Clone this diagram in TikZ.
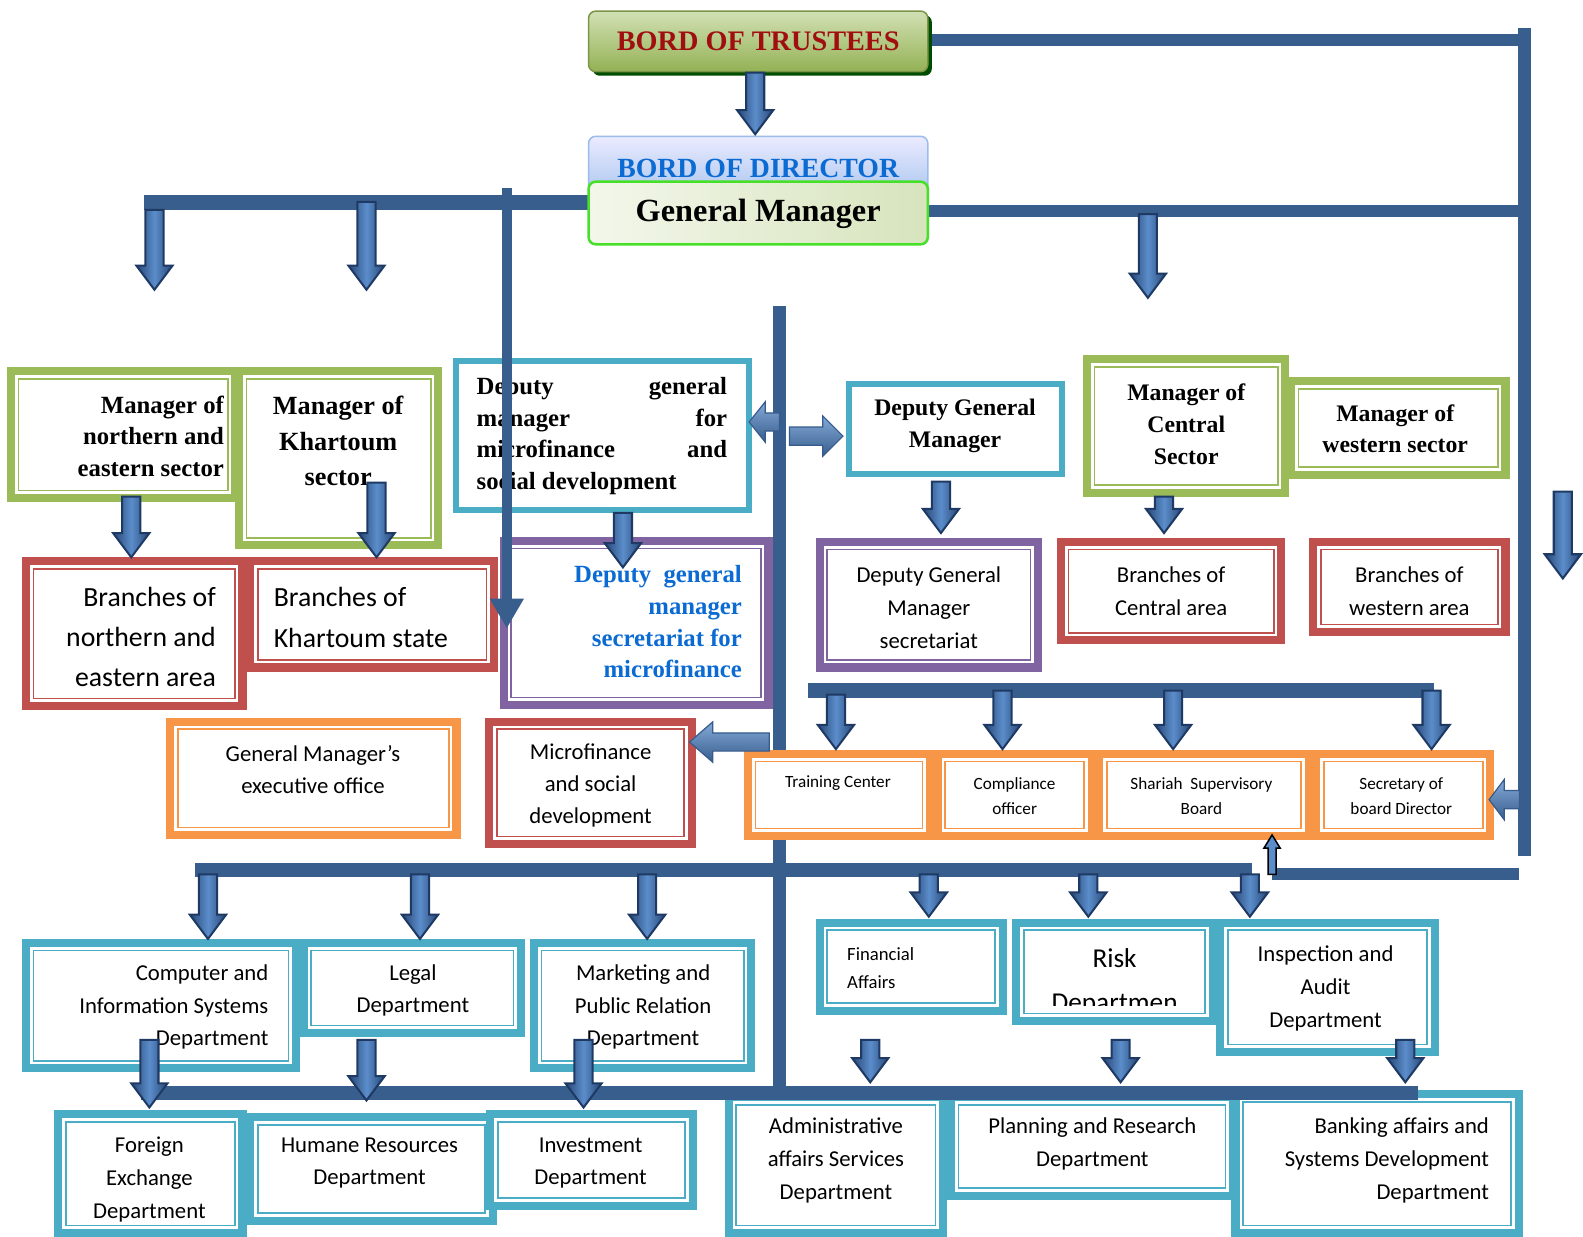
\documentclass[tikz,border=0pt]{standalone}
\usepackage{fontspec}
\setmainfont{Carlito}
\newfontfamily\sbf{Liberation Serif}
\usetikzlibrary{fit,calc}
\definecolor{cgreen}{HTML}{9BBB59}
\definecolor{cred}{HTML}{C0504D}
\definecolor{cteal}{HTML}{4BACC6}
\definecolor{cpurple}{HTML}{8064A2}
\definecolor{corange}{HTML}{F79646}
\definecolor{cbar}{HTML}{385E8D}
\definecolor{cadark}{HTML}{1E3A64}
\definecolor{camid}{HTML}{5B8DCB}
\definecolor{cblue}{HTML}{0B6BD3}
\definecolor{cdred}{HTML}{A00E10}
\newcommand\fs[2]{\fontsize{#1pt}{#2pt}\selectfont}
\tikzset{
  bar/.style={cbar, line width=13pt},
  darr/.style={draw=cadark, line width=2pt, left color=cadark!85!camid, right color=cadark!85!camid, middle color=camid, line join=miter},
  harr/.style={draw=cadark!60!camid, line width=1.2pt, top color=camid!75!white, bottom color=cbar, line join=miter},
  tb/.style={inner sep=0pt},
}
\newcommand\frbox[6]{%
  \node[fit={(#2,#3)(#4,#5)}, inner sep=0pt, fill=white] (#1) {};
  \draw[#6, line width=8pt] ([shift={(4pt,-4pt)}]#1.north west) rectangle ([shift={(-4pt,4pt)}]#1.south east);
  \draw[#6, line width=1.6pt] ([shift={(11.5pt,-11.5pt)}]#1.north west) rectangle ([shift={(-11.5pt,11.5pt)}]#1.south east);
}
\newcommand\plbox[6]{%
  \node[fit={(#2,#3)(#4,#5)}, inner sep=0pt, fill=white] (#1) {};
  \draw[#6, line width=6pt] ([shift={(3pt,-3pt)}]#1.north west) rectangle ([shift={(-3pt,3pt)}]#1.south east);
}
\newcommand\dar[3]{%
  \path[darr] (#1-9,#2) -- (#1+9,#2) -- (#1+9,#3-24) -- (#1+18,#3-24) -- (#1,#3) -- (#1-18,#3-24) -- (#1-9,#3-24) -- cycle;
}
\newcommand\har[4]{%
  \path[harr] (#1,#4-9) -- (#2,#4-9) -- (#2,#4-20) -- (#3,#4) -- (#2,#4+20) -- (#2,#4+9) -- (#1,#4+9) -- cycle;
}
\begin{document}
\begin{tikzpicture}[x=1pt,y=-1pt]
\useasboundingbox[fill=white] (0,0) rectangle (1568,1225);
% ---- trunk bars
\draw[bar, line width=12pt] (919,40) -- (1516,40);
\draw[bar, line width=12pt] (1510,28) -- (1510,848);
\draw[bar, line width=12pt] (919,209) -- (1516,209);
\draw[bar, line width=15pt] (143,201) -- (583,201);
\draw[bar] (772,303) -- (772,1083);
\draw[bar, line width=14pt] (800,684) -- (1420,684);
\draw[bar, line width=14pt] (193,862) -- (1240,862);
\draw[bar, line width=12pt] (1260,866) -- (1505,866);
% ---- top boxes
\fill[green!30!black, rounded corners=7pt] (587,15) rectangle (923,75);
\node[fit={(583,11)(919,71)}, inner sep=0pt, rounded corners=7pt, top color=cgreen!45!white, bottom color=cgreen!95!black, draw=cgreen!80!black, line width=1.5pt] (trustees) {};
\node[tb, font=\sbf\bfseries\fs{28}{30}, text=cdred] at (trustees.center) {BORD OF TRUSTEES};
\node[fit={(583,135)(919,200)}, inner sep=0pt, rounded corners=7pt, top color=blue!8!white, bottom color=blue!30!cteal!45!white, draw=blue!30!cteal!50!white, line width=1.5pt] (director) {};
\node[tb, font=\sbf\bfseries\fs{27.5}{30}, text=cblue] at (751,167) {BORD OF DIRECTOR};
\node[fit={(583,180)(919,242)}, inner sep=0pt, rounded corners=7pt, left color=cgreen!12!white, right color=cgreen!40!white, draw=green!55!cgreen, line width=2.5pt] (gm) {};
\node[tb, font=\sbf\bfseries\fs{32}{34}] at (751,212) {General Manager};
% ---- row 2
\frbox{mne}{7}{364}{237}{497}{cgreen}
\frbox{mkh}{233}{364}{438}{544}{cgreen}
\plbox{dmf}{449}{355}{745}{508}{cteal}
\plbox{dgm}{838}{378}{1055}{472}{cteal}
\frbox{mce}{1073}{352}{1277}{492}{cgreen}
\frbox{mwe}{1275}{374}{1495}{474}{cgreen}
% ---- row 3
\frbox{bne}{22}{552}{244}{703}{cred}
\frbox{bkh}{244}{552}{493}{665}{cred}
\frbox{dsm}{495}{532}{765}{702}{cpurple}
\frbox{dgs}{808}{533}{1032}{665}{cpurple}
\frbox{bce}{1047}{533}{1273}{638}{cred}
\frbox{bwe}{1297}{533}{1495}{630}{cred}
% ---- row 4
\frbox{gme}{165}{711}{456}{831}{corange}
\frbox{msd}{481}{711}{689}{840}{cred}
\frbox{trc}{737}{743}{925}{832}{corange}
\frbox{cpo}{925}{743}{1085}{832}{corange}
\frbox{ssb}{1085}{743}{1300}{832}{corange}
\frbox{sbd}{1300}{743}{1480}{832}{corange}
% ---- row 5
\frbox{cis}{22}{930}{297}{1062}{cteal}
\frbox{lgl}{297}{930}{520}{1027}{cteal}
\frbox{mpr}{525}{930}{748}{1062}{cteal}
\frbox{fin}{808}{910}{997}{1005}{cteal}
\frbox{rsk}{1003}{910}{1205}{1015}{cteal}
\frbox{ins}{1205}{910}{1425}{1046}{cteal}
% ---- row 6
\frbox{fex}{54}{1100}{244}{1225}{cteal}
\frbox{hrd}{244}{1103}{492}{1213}{cteal}
\frbox{inv}{482}{1100}{690}{1198}{cteal}
\frbox{adm}{718}{1083}{938}{1225}{cteal}
\frbox{pln}{938}{1083}{1225}{1188}{cteal}
\frbox{bnk}{1220}{1080}{1508}{1225}{cteal}
\draw[bar, line width=14pt] (140,1083) -- (1405,1083);
% ---- texts
\node[tb, anchor=east, align=right, font=\sbf\bfseries\fs{24.5}{31}] at (222,432) {Manager of\\northern and\\eastern sector};
\node[tb, align=center, font=\sbf\bfseries\fs{26}{35}] at (335,437) {Manager of\\Khartoum\\sector};
\node[tb, anchor=west, align=left, font=\sbf\bfseries\fs{24.5}{31.3}] at (472,432) {\hbox to 248pt{Deputy\hfill general}\\\hbox to 248pt{manager\hfill for}\\\hbox to 248pt{microfinance\hfill and}\\social development};
\node[tb, align=center, font=\sbf\bfseries\fs{23.5}{32}] at (946,422) {Deputy General\\Manager};
\node[tb, align=center, font=\sbf\bfseries\fs{23.5}{31.5}] at (1175,420) {Manager of\\Central\\Sector};
\node[tb, align=center, font=\sbf\bfseries\fs{23.5}{31}] at (1382,424.5) {Manager of\\western sector};
\node[tb, anchor=east, align=right, font=\fs{27.5}{40}] at (214,631) {Branches of\\northern and\\eastern area};
\node[tb, anchor=west, align=left, font=\fs{27.5}{41}] at (271,611.5) {Branches of\\Khartoum state};
\node[tb, anchor=east, align=right, text=cblue, font=\sbf\bfseries\fs{24.5}{31.3}] at (735,616) {Deputy\ \ general\\manager\\secretariat for\\microfinance};
\node[tb, align=center, font=\fs{22.5}{33}] at (920,602) {Deputy General\\Manager\\secretariat};
\node[tb, align=center, font=\fs{22.5}{33}] at (1160,585.5) {Branches of\\Central area};
\node[tb, align=center, font=\fs{22.5}{33}] at (1396,585.5) {Branches of\\western area};
\node[tb, align=center, font=\fs{22.5}{32}] at (310,762) {General Manager’s\\executive office};
\node[tb, align=center, font=\fs{22.5}{32}] at (585,778) {Microfinance\\and social\\development};
\node[tb, align=center, font=\fs{17}{25}] at (830,776) {Training Center};
\node[tb, align=center, font=\fs{17}{25}] at (1005,788.5) {Compliance\\officer};
\node[tb, align=center, font=\fs{17}{25}] at (1190,788.5) {Shariah\ \ Supervisory\\Board};
\node[tb, align=center, font=\fs{17}{25}] at (1388,788.5) {Secretary of\\board Director};
\node[tb, anchor=east, align=right, font=\fs{22.5}{32.5}] at (266,997.5) {Computer and\\Information Systems\\Department};
\node[tb, align=center, font=\fs{22.5}{32.5}] at (409,981) {Legal\\Department};
\node[tb, align=center, font=\fs{22.5}{32.5}] at (637,997.5) {Marketing and\\Public Relation\\Department};
\node[tb, anchor=west, align=left, font=\fs{18.5}{28}] at (839,959) {Financial\\Affairs};
\begin{scope}
\clip (1015,921) rectangle (1193,996);
\node[tb, align=center, font=\fs{27}{44}] at (1104,973) {Risk\\Departmen};
\end{scope}
\node[tb, align=center, font=\fs{22.5}{33}] at (1313,979) {Inspection and\\Audit\\Department};
\node[tb, align=center, font=\fs{22.5}{32.5}] at (148,1168.5) {Foreign\\Exchange\\Department};
\node[tb, align=center, font=\fs{22.5}{32.5}] at (366,1152) {Humane Resources\\Department};
\node[tb, align=center, font=\fs{22.5}{32.5}] at (585,1152) {Investment\\Department};
\node[tb, align=center, font=\fs{22.5}{32.5}] at (828,1149.5) {Administrative\\affairs Services\\Department};
\node[tb, align=center, font=\fs{22.5}{32.5}] at (1082,1133) {Planning and Research\\Department};
\node[tb, anchor=east, align=right, font=\fs{22.5}{32.5}] at (1475,1149.5) {Banking affairs and\\Systems Development\\Department};
% ---- thin line with arrowhead
\draw[cbar, line width=10pt] (502,186) -- (502,595);
\fill[cbar] (485,593) -- (519,593) -- (502,622) -- cycle;
% ---- down arrows
\dar{748}{72}{133}
\dar{153}{208}{287}
\dar{363}{200}{287}
\dar{1137}{212}{295}
\dar{130}{492}{552}
\dar{373}{478}{552}
\dar{617}{508}{562}
\dar{932}{477}{528}
\dar{1153}{492}{528}
\dar{1548}{487}{573}
\dar{828}{688}{742}
\dar{993}{684}{742}
\dar{1162}{684}{742}
\dar{1418}{684}{742}
\dar{206}{866}{930}
\dar{416}{866}{930}
\dar{641}{866}{930}
\dar{920}{866}{908}
\dar{1078}{866}{908}
\dar{1238}{866}{908}
\dar{148}{1030}{1097}
\dar{363}{1030}{1090}
\dar{578}{1030}{1097}
\dar{862}{1030}{1072}
\dar{1110}{1030}{1072}
\dar{1392}{1030}{1072}
% ---- horizontal block arrows
\har{772}{758}{742}{418}
\har{782}{815}{835}{432}
\har{762}{706}{683}{735}
\har{1505}{1490}{1475}{792}
% ---- small up arrow
\draw[fill=camid, draw=black, line width=1.5pt] (1256,866) -- (1264,866) -- (1264,840) -- (1268,840) -- (1260,827) -- (1252,840) -- (1256,840) -- cycle;
\end{tikzpicture}
\end{document}
